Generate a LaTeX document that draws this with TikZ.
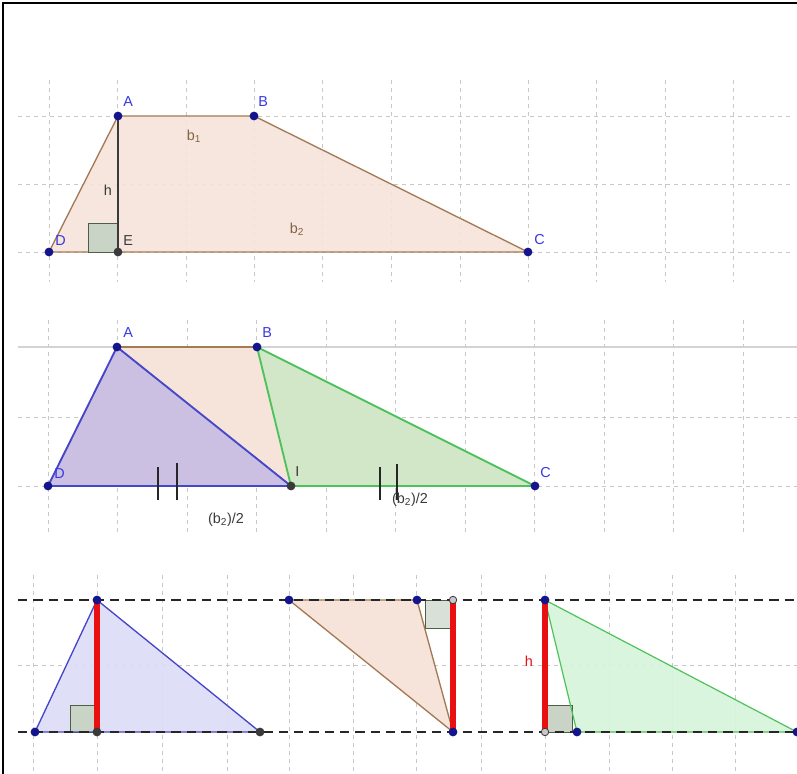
\documentclass[tikz,border=0pt]{standalone}
\usepackage{fontspec}
\setmainfont{Liberation Sans}
\definecolor{ptblue}{HTML}{14148C}
\definecolor{ptgray}{HTML}{3A3A3A}
\definecolor{lblblue}{HTML}{3838E0}
\definecolor{peach}{HTML}{F6E4DA}
\definecolor{brownedge}{HTML}{A47A55}
\definecolor{lav}{HTML}{C7BCE3}
\definecolor{lavlight}{HTML}{DCDDF8}
\definecolor{blueedge}{HTML}{4646C8}
\definecolor{greenfill}{HTML}{CFE8C6}
\definecolor{greenlight}{HTML}{D6F5DA}
\definecolor{greenedge}{HTML}{4EC25A}
\definecolor{rafill}{HTML}{C9D3C6}
\definecolor{raedge}{HTML}{4E5E48}
\definecolor{gridc}{HTML}{C8C8C8}
\definecolor{hred}{HTML}{E81010}
\tikzset{
  x=0.75pt, y=-0.75pt,
  gridline/.style={gridc, line width=0.6pt, dash pattern=on 3pt off 3pt},
  pt/.style={circle, fill=ptblue, inner sep=0pt, minimum size=6.6pt},
  ptg/.style={circle, fill=ptgray, inner sep=0pt, minimum size=6.6pt},
  pth/.style={circle, draw=ptgray, fill=gridc, line width=0.6pt, inner sep=0pt, minimum size=5.6pt},
  lbl/.style={font=\fontsize{10.8}{12}\selectfont, text=lblblue, inner sep=0pt},
  lbld/.style={font=\fontsize{10.8}{12}\selectfont, text=ptgray, inner sep=0pt},
  lblb/.style={font=\fontsize{10.8}{12}\selectfont, text=brownedge!80!black, inner sep=0pt},
  ra/.style={fill=rafill, draw=raedge, line width=0.6pt},
  redseg/.style={hred, line width=3.8pt},
  blackdash/.style={black!85, line width=1pt, dash pattern=on 7pt off 4.5pt},
  tick/.style={black!85, line width=0.8pt}
}
\begin{document}
\begin{tikzpicture}
\useasboundingbox (0,0) rectangle (797,774);
\fill[white] (0,0) rectangle (797,774);
\draw[black, line width=1pt] (3,774) -- (3,3) -- (797,3);

% ---------- Panel 1 grid
\foreach \gx in {49,117.5,186,254,322,391,460,528,596,665,733}
  \draw[gridline] (\gx,80) -- (\gx,282);
\foreach \gy in {116,184,252}
  \draw[gridline] (18,\gy) -- (790,\gy);

% Panel 1 points
\coordinate (A1) at (118,116);
\coordinate (B1) at (254,116);
\coordinate (C1) at (528,252);
\coordinate (D1) at (49,252);
\coordinate (E1) at (118,252);
\fill[peach, opacity=0.9] (A1) -- (B1) -- (C1) -- (D1) -- cycle;
\draw[brownedge, line width=1pt] (A1) -- (B1) -- (C1) -- (D1) -- cycle;
\draw[ra] (88,252) rectangle (118,223);
\draw[ptgray, line width=1pt] (A1) -- (E1);
\node[pt] (pA1) at (A1) {};
\node[pt] (pB1) at (B1) {};
\node[pt] (pC1) at (C1) {};
\node[pt] (pD1) at (D1) {};
\node[ptg] (pE1) at (E1) {};
\node[lbl, anchor=south west] (lA1) at (123,107) {A};
\node[lbl, anchor=south west] (lB1) at (258,107) {B};
\node[lbl, anchor=south west] (lC1) at (534,245) {C};
\node[lbl, anchor=south west] (lD1) at (55,246) {D};
\node[lbld, anchor=south west] (lE1) at (123,246) {E};
\node[lblb] (lb1) at (194,136) {b\textsubscript{1}};
\node[lbld] (lh1) at (108,190) {h};
\node[lblb] (lb2) at (297,229) {b\textsubscript{2}};

% ---------- Panel 2 grid
\foreach \gx in {48,117.5,187,256.5,326,395.5,465,534.5,604,673.5,743}
  \draw[gridline] (\gx,320) -- (\gx,532);
\foreach \gy in {417,486}
  \draw[gridline] (18,\gy) -- (797,\gy);
\draw[gridc!80!white, line width=1pt] (18,347) -- (797,347);

\coordinate (A2) at (117,347);
\coordinate (B2) at (257,347);
\coordinate (C2) at (535,486);
\coordinate (D2) at (48,486);
\coordinate (I2) at (291,486);
\fill[peach] (A2) -- (B2) -- (C2) -- (D2) -- cycle;
\fill[lav, opacity=0.9] (A2) -- (D2) -- (I2) -- cycle;
\fill[greenfill, opacity=0.9] (B2) -- (I2) -- (C2) -- cycle;
\draw[brownedge, line width=1.4pt] (A2) -- (B2);
\draw[blueedge, line width=1.4pt] (A2) -- (D2) -- (I2) -- cycle;
\draw[greenedge, line width=1.4pt] (B2) -- (I2) -- (C2) -- cycle;
\coordinate (t1a) at (158,467); \coordinate (t1b) at (158,500);
\coordinate (t2a) at (177,463); \coordinate (t2b) at (177,500);
\coordinate (t3a) at (380,467); \coordinate (t3b) at (380,500);
\coordinate (t4a) at (397,464); \coordinate (t4b) at (397,500);
\draw[tick] (t1a) -- (t1b);
\draw[tick] (t2a) -- (t2b);
\draw[tick] (t3a) -- (t3b);
\draw[tick] (t4a) -- (t4b);
\node[pt] (pA2) at (A2) {};
\node[pt] (pB2) at (B2) {};
\node[pt] (pC2) at (C2) {};
\node[pt] (pD2) at (D2) {};
\node[ptg] (pI2) at (I2) {};
\node[lbl, anchor=south west] (lA2) at (123,338) {A};
\node[lbl, anchor=south west] (lB2) at (262,338) {B};
\node[lbl, anchor=south west] (lC2) at (540,478) {C};
\node[lbl, anchor=south west] (lD2) at (54,479) {D};
\node[lbld, anchor=south west] (lI2) at (295,477) {I};
\node[lbld] (lh2a) at (226,520) {(b\textsubscript{2})/2};
\node[lbld] (lh2b) at (410,500) {(b\textsubscript{2})/2};

% ---------- Panel 3 grid
\foreach \gx in {33,97,162,227,289,353,416,481,545,609,672,735}
  \draw[gridline] (\gx,575) -- (\gx,774);
\draw[gridline] (18,665) -- (797,665);

% left triangle
\coordinate (P1) at (97,600);
\coordinate (P2) at (35,732);
\coordinate (P3) at (260,732);
\coordinate (P4) at (97,732);
\fill[lavlight, opacity=0.9] (P1) -- (P2) -- (P3) -- cycle;
\draw[ra] (70,732) rectangle (97,705);
\draw[blueedge, line width=1pt] (P1) -- (P2) -- (P3) -- cycle;

% middle triangle
\coordinate (Q1) at (289,600);
\coordinate (Q2) at (417,600);
\coordinate (Q3) at (453,732);
\coordinate (Q4) at (453,600);
\fill[peach] (Q1) -- (Q2) -- (Q3) -- cycle;
\draw[ra, fill=rafill!70!white] (425,600) rectangle (453,628);
\draw[brownedge, line width=1pt] (Q1) -- (Q2) -- (Q3) -- cycle;

% right triangle
\coordinate (R1) at (545,600);
\coordinate (R2) at (577,732);
\coordinate (R3) at (797,732);
\coordinate (R4) at (545,732);
\fill[greenlight, opacity=0.9] (R1) -- (R2) -- (R3) -- cycle;
\draw[ra] (545,732) rectangle (572,705);
\draw[greenedge, line width=0.9pt] (R1) -- (R2) -- (R3) -- cycle;

% dashed parallels
\coordinate (L1) at (18,600); \coordinate (L2) at (797,600);
\coordinate (L3) at (18,732); \coordinate (L4) at (797,732);
\draw[blackdash] (L1) -- (L2);
\draw[blackdash] (L3) -- (L4);

% heights
\draw[redseg] (P1) -- (P4);
\draw[redseg] (Q4) -- (Q3);
\draw[redseg] (R1) -- (R4);

\node[pt] (pP1) at (P1) {};
\node[pt] (pP2) at (P2) {};
\node[ptg] (pP3) at (P3) {};
\node[ptg] (pP4) at (P4) {};
\node[pt] (pQ1) at (Q1) {};
\node[pt] (pQ2) at (Q2) {};
\node[pth] (pQ4) at (Q4) {};
\node[pt] (pQ3) at (Q3) {};
\node[pt] (pR1) at (R1) {};
\node[pth] (pR4) at (R4) {};
\node[pt] (pR2) at (R2) {};
\node[pt] (pR3) at (R3) {};
\node[font=\fontsize{10.8}{12}\selectfont, text=hred, inner sep=0pt] (lh3) at (529,661) {h};
\end{tikzpicture}
\end{document}
